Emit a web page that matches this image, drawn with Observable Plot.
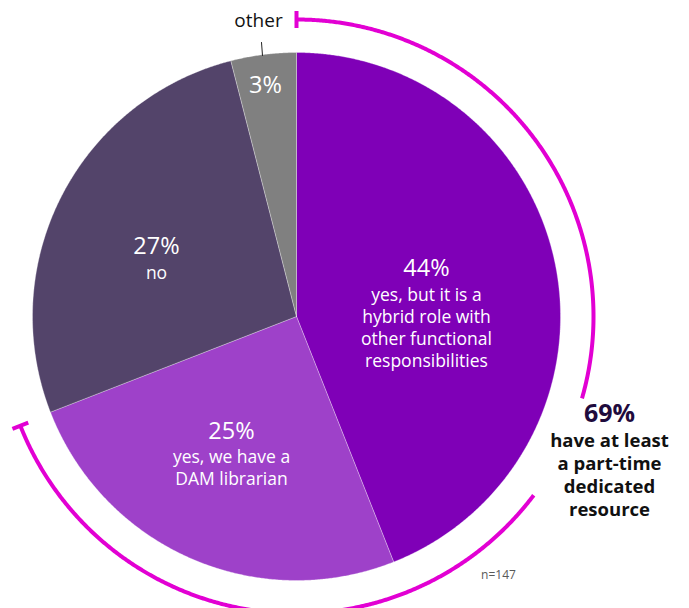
<!DOCTYPE html>
<html><head><meta charset="utf-8">
<script src="https://cdn.jsdelivr.net/npm/d3@7"></script>
<script src="https://cdn.jsdelivr.net/npm/@observablehq/plot@0.6"></script>
<style>body{margin:0;background:#fff} #chart svg{display:block}</style>
</head><body><div id="chart"></div>
<script>
// ---- data ----
const categories = ["yes, but it is a\nhybrid role with\nother functional\nresponsibilities", "yes, we have a\nDAM librarian", "no", "other"];
const shares = [44, 25, 27, 3];            // printed labels (%)
const sliceSizes = [44.0, 25.1, 26.9, 4.0]; // slice sizes (%)
const colors = ["#7f00b7", "#9e41c9", "#53446a", "#808080"];
const highlightShare = 69;
const highlightText = "have at least\na part-time\ndedicated\nresource";
const sampleNote = "n=147";

// ---- layout ----
const W = 689, H = 608, cx = 296, cy = 316, R = 264;
const ux = px => (px - cx) / R, uy = py => (cy - py) / R;
const FONT = "'Open Sans', Lato, sans-serif";

// slice polygons in unit coords (angle clockwise from 12 o'clock)
const pie = d3.pie().sort(null).value(d => d)(sliceSizes);
const slicePts = [];
pie.forEach((p, i) => {
  slicePts.push({x: 0, y: 0, i});
  const n = Math.max(2, Math.ceil((p.endAngle - p.startAngle) / 0.005));
  for (let k = 0; k <= n; k++) {
    const a = p.startAngle + (p.endAngle - p.startAngle) * k / n;
    slicePts.push({x: Math.sin(a), y: Math.cos(a), i});
  }
  slicePts.push({x: 0, y: 0, i});
});

// highlight ring (69%) with a gap for the callout text
const rr = 297 / R;
const endA = highlightShare / 100 * 2 * Math.PI;
const gap = [106 * Math.PI / 180, 127 * Math.PI / 180];
const ringPts = [];
[[0, gap[0], 0], [gap[1], endA, 1]].forEach(([a0, a1, s]) => {
  const n = Math.ceil((a1 - a0) / 0.005);
  for (let k = 0; k <= n; k++) {
    const a = a0 + (a1 - a0) * k / n;
    ringPts.push({x: rr * Math.sin(a), y: rr * Math.cos(a), s});
  }
});
const capLen = 8.5 / R;
const caps = [0, endA].flatMap((a, s) => [
  {x: (rr - capLen) * Math.sin(a), y: (rr - capLen) * Math.cos(a), s},
  {x: (rr + capLen) * Math.sin(a), y: (rr + capLen) * Math.cos(a), s}
]);

// label anchors (pixel positions converted to unit coords)
const pctPos = [[426, 268], [231, 431], [156, 246], [265, 85]];
const subPos = [[426, 326], [231, 466], [156, 271]];
const pctLabels = shares.map((v, i) => ({x: ux(pctPos[i][0]), y: uy(pctPos[i][1]), t: v + "%"}));
const subLabels = categories.slice(0, 3).map((c, i) => ({x: ux(subPos[i][0]), y: uy(subPos[i][1]), t: c}));

const chart = Plot.plot({
  width: W, height: H, margin: 0,
  x: {domain: [ux(0), ux(W)], axis: null},
  y: {domain: [uy(H), uy(0)], axis: null},
  color: {type: "identity"},
  marks: [
    Plot.line(slicePts, {x: "x", y: "y", z: "i", fill: d => colors[d.i], stroke: "#ffffff", strokeWidth: 0.6, strokeOpacity: 0.5, curve: "linear"}),
    Plot.line(ringPts, {x: "x", y: "y", z: "s", stroke: "#e200d3", strokeWidth: 4, strokeLinecap: "butt"}),
    Plot.line(caps, {x: "x", y: "y", z: "s", stroke: "#e200d3", strokeWidth: 4, strokeLinecap: "butt"}),
    Plot.text(pctLabels, {x: "x", y: "y", text: "t", fill: "#ffffff", fontSize: 23.5, fontFamily: FONT}),
    Plot.text(subLabels, {x: "x", y: "y", text: "t", fill: "#ffffff", fontSize: 17.5, lineHeight: 22 / 17.5, fontFamily: FONT}),
    Plot.text([categories[3]], {x: ux(258), y: uy(20), text: d => d, fill: "#111111", fontSize: 19, fontFamily: FONT}),
    Plot.line([{x: ux(261), y: uy(42)}, {x: ux(262), y: uy(55)}], {x: "x", y: "y", stroke: "#222222", strokeWidth: 1}),
    Plot.text([highlightShare + "%"], {x: ux(609), y: uy(413), text: d => d, fill: "#1f0b3d", fontSize: 25, fontWeight: "bold", fontFamily: FONT}),
    Plot.text([highlightText], {x: ux(609), y: uy(473.5), text: d => d, fill: "#111111", fontSize: 18.5, fontWeight: "bold", lineHeight: 23 / 18.5, fontFamily: FONT}),
    Plot.text([sampleNote], {x: ux(498), y: uy(575), text: d => d, fill: "#595959", fontSize: 12, fontFamily: FONT})
  ]
});
document.getElementById("chart").appendChild(chart);
</script>
</body></html>
